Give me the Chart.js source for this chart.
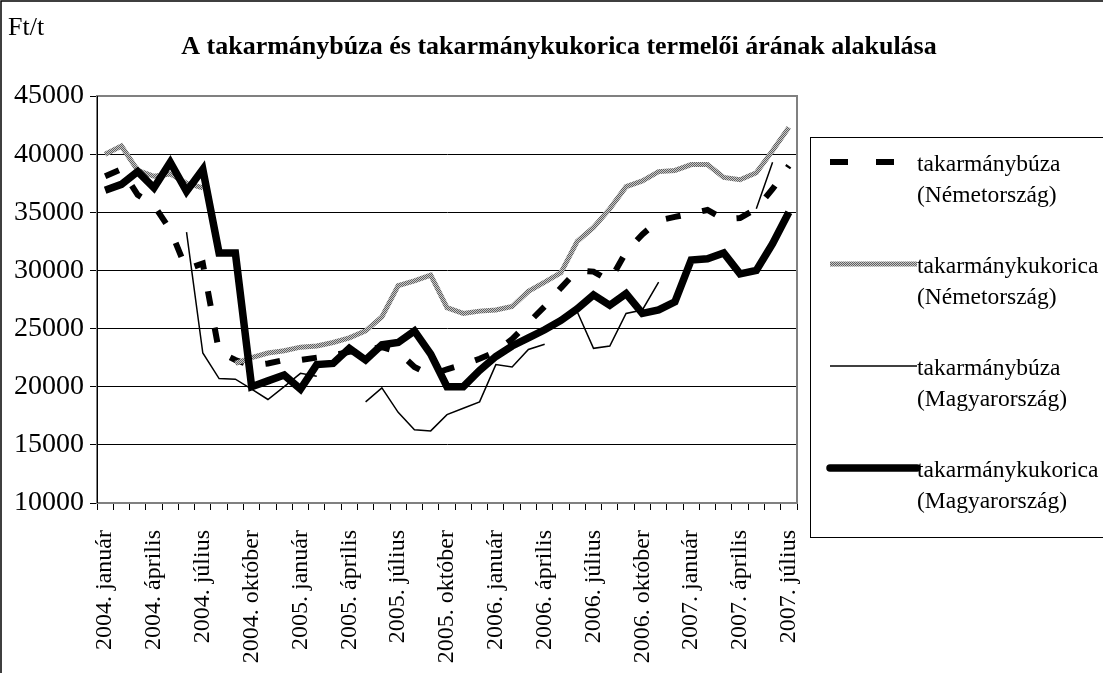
<!DOCTYPE html>
<html>
<head>
<meta charset="utf-8">
<script src="https://cdn.jsdelivr.net/npm/chart.js@4.4.1/dist/chart.umd.min.js"></script>
<style>
  html, body { margin: 0; padding: 0; background: #fff; }
  #wrap { width: 1103px; height: 673px; position: relative; }
</style>
</head>
<body>
<div id="wrap"><canvas id="chart" width="1103" height="673"></canvas></div>
<script>
// havi címkék 2004. január - 2007. július
var labels = [
  '2004. január', '2004. február', '2004. március', '2004. április', '2004. május', '2004. június',
  '2004. július', '2004. augusztus', '2004. szeptember', '2004. október', '2004. november', '2004. december',
  '2005. január', '2005. február', '2005. március', '2005. április', '2005. május', '2005. június',
  '2005. július', '2005. augusztus', '2005. szeptember', '2005. október', '2005. november', '2005. december',
  '2006. január', '2006. február', '2006. március', '2006. április', '2006. május', '2006. június',
  '2006. július', '2006. augusztus', '2006. szeptember', '2006. október', '2006. november', '2006. december',
  '2007. január', '2007. február', '2007. március', '2007. április', '2007. május', '2007. június',
  '2007. július'
];

var buzaNemet = [
  38100, 38700, 36500, 35600, 33500, 30100, 30600, 23000, 22300, 21800, 22000, 22300,
  22300, 22500, 22700, 23000, 23200, 23400, 23000, 21700, 21000, 21500, 21900, 22400,
  23000, 24100, 25500, 26900, 28500, 30000, 29900, 29100, 31600, 33100, 34300, 34600,
  34900, 35200, 34400, 34500, 35300, 37000, 39000
];

var kukoricaNemet = [
  40000, 40700, 38600, 38100, 38300, 37500, 37100, null, 22000, 22500, 22900, 23100,
  23400, 23500, 23800, 24200, 24800, 26000, 28700, 29100, 29600, 26800, 26300, 26500,
  26600, 26900, 28200, 29000, 29800, 32500, 33700, 35300, 37200, 37700, 38500, 38600,
  39100, 39100, 38000, 37800, 38400, 40300, 42300
];

var buzaMagyar = [
  null, null, null, null, null, 33300, 22900, 20700, 20650, 19800, 18900, 20000,
  21150, 20900, null, null, 18700, 19900, 17800, 16300, 16200, 17600, 18150, 18700,
  21900, 21700, 23200, 23650, null, 26450, 23300, 23500, 26300, 26600, 29000, null,
  null, null, null, null, 35300, 39300, null
];

var kukoricaMagyar = [
  36900, 37400, 38500, 37100, 39300, 36800, 38700, 31500, 31500, 20000, 20500, 21000,
  19800, 21900, 22000, 23300, 22300, 23600, 23800, 24800, 22800, 20000, 20000, 21400,
  22600, 23500, 24200, 24900, 25700, 26700, 27900, 27000, 28000, 26300, 26600, 27300,
  30900, 31000, 31500, 29700, 30000, 32300, 35000
];

var yTicks = [10000, 15000, 20000, 25000, 30000, 35000, 40000, 45000];

var serif = "'Liberation Serif', 'Times New Roman', serif";

var ctx = document.getElementById('chart');

// szürke mintás vonal (mint az Excelben)
function grayPattern() {
  var c = document.createElement('canvas');
  c.width = 2; c.height = 2;
  var g = c.getContext('2d');
  g.fillStyle = '#c8c8c8';
  g.fillRect(0, 0, 2, 2);
  g.fillStyle = '#606060';
  g.fillRect(0, 0, 1, 1);
  g.fillRect(1, 1, 1, 1);
  return ctx.getContext('2d').createPattern(c, 'repeat');
}
var grayFill = grayPattern();

var series = [
  { label: ['takarmánybúza', '(Németország)'], data: buzaNemet, borderColor: '#000', borderWidth: 6, borderDash: [15, 22], order: 4 },
  { label: ['takarmánykukorica', '(Németország)'], data: kukoricaNemet, borderColor: grayFill, borderWidth: 5, borderDash: [], order: 3 },
  { label: ['takarmánybúza', '(Magyarország)'], data: buzaMagyar, borderColor: '#000', borderWidth: 1.5, borderDash: [], order: 2 },
  { label: ['takarmánykukorica', '(Magyarország)'], data: kukoricaMagyar, borderColor: '#000', borderWidth: 7.5, borderDash: [], order: 1 }
];

// keret, cím, jelmagyarázat
var decorPlugin = {
  id: 'decor',
  beforeDatasetsDraw: function (chart) {
    var a = chart.chartArea, c = chart.ctx;
    c.save();
    c.strokeStyle = '#808080';
    c.lineWidth = 2;
    c.strokeRect(a.left, a.top, a.right - a.left, a.bottom - a.top);
    c.strokeStyle = '#000';
    c.lineWidth = 1;
    c.beginPath();
    c.moveTo(a.left + 0.5, a.top);
    c.lineTo(a.left + 0.5, a.bottom);
    c.stroke();
    c.restore();
  },
  afterDraw: function (chart) {
    var c = chart.ctx;
    c.save();
    // külső keret
    c.strokeStyle = '#000';
    c.lineWidth = 1.5;
    c.beginPath();
    c.moveTo(1, 673); c.lineTo(1, 1); c.lineTo(1103, 1);
    c.stroke();

    c.fillStyle = '#000';
    c.textBaseline = 'middle';
    c.font = '26px ' + serif;
    c.textAlign = 'left';
    c.fillText('Ft/t', 8, 28);
    c.font = 'bold 26px ' + serif;
    c.textAlign = 'center';
    c.fillText('A takarmánybúza és takarmánykukorica termelői árának alakulása', 559, 47);

    // jelmagyarázat
    c.lineWidth = 1;
    c.strokeStyle = '#000';
    c.strokeRect(810.5, 137.5, 320, 400);
    var ys = [162, 264, 366, 468];
    c.font = '23.5px ' + serif;
    c.textAlign = 'left';
    series.forEach(function (s, i) {
      var y = ys[i];
      c.save();
      c.strokeStyle = s.borderColor;
      c.lineWidth = s.borderWidth;
      c.setLineDash(s.borderDash.length ? [18, 28] : []);
      c.lineCap = s.borderWidth >= 7 ? 'round' : 'butt';
      c.beginPath();
      c.moveTo(830, y);
      c.lineTo(i === 0 ? 896 : 917, y);
      c.stroke();
      c.restore();
      c.fillStyle = '#000';
      c.fillText(s.label[0], 917, y + 3);
      c.fillText(s.label[1], 917, y + 34);
    });
    c.restore();
  }
};

new Chart(ctx, {
  type: 'line',
  data: {
    labels: labels,
    datasets: series.map(function (s) {
      return {
        label: s.label.join(' '),
        data: s.data,
        borderColor: s.borderColor,
        borderWidth: s.borderWidth,
        borderDash: s.borderDash,
        borderCapStyle: 'butt',
        borderJoinStyle: 'miter',
        pointRadius: 0,
        tension: 0,
        fill: false,
        spanGaps: false,
        order: s.order
      };
    })
  },
  options: {
    responsive: false,
    devicePixelRatio: 1,
    animation: false,
    layout: { padding: { left: 0, top: 96, right: 306, bottom: 0 } },
    plugins: {
      legend: { display: false },
      title: { display: false },
      tooltip: { enabled: false }
    },
    scales: {
      x: {
        type: 'category',
        offset: true,
        grid: { offset: true, drawOnChartArea: false, color: '#000', tickLength: 7 },
        border: { color: '#808080', width: 2 },
        ticks: {
          autoSkip: false,
          maxRotation: 90,
          minRotation: 90,
          padding: 20,
          color: '#000',
          font: { family: serif, size: 24 },
          callback: function (v, i) { return i % 3 === 0 ? labels[i] : ''; }
        },
        afterFit: function (s) { s.height = 170; }
      },
      y: {
        min: 10000,
        max: 45000,
        grid: { color: '#000', lineWidth: 1, tickLength: 7 },
        border: { color: '#000', width: 1 },
        ticks: {
          stepSize: 5000,
          padding: 6,
          color: '#000',
          font: { family: serif, size: 28 },
          callback: function (v) { return yTicks.indexOf(v) >= 0 ? String(v) : ''; }
        },
        afterFit: function (s) { s.width = 97; }
      }
    }
  },
  plugins: [decorPlugin]
});
</script>
</body>
</html>
